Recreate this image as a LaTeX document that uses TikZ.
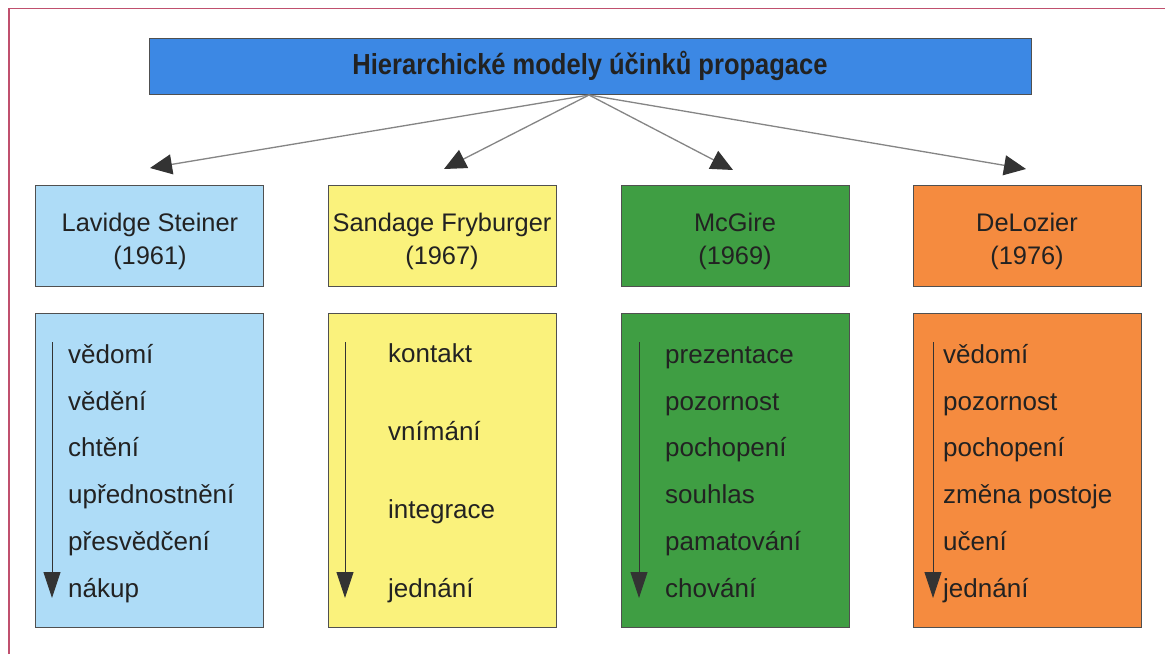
\documentclass[tikz,border=0pt]{standalone}
\usepackage{fontspec}
\setmainfont{Liberation Sans}
\newfontfamily\titlefont[FakeStretch=0.88]{Liberation Sans}
\usetikzlibrary{arrows.meta}
\definecolor{titleblue}{HTML}{3C88E4}
\definecolor{lightblue}{HTML}{AEDCF7}
\definecolor{boxyellow}{HTML}{FAF27C}
\definecolor{boxgreen}{HTML}{3F9E43}
\definecolor{boxorange}{HTML}{F58B3F}
\definecolor{framecol}{HTML}{C0506E}
\definecolor{bordercol}{HTML}{505050}
\definecolor{txtcol}{HTML}{222222}
\definecolor{fancol}{HTML}{858585}
\definecolor{tipcol}{HTML}{333333}
\begin{document}
\begin{tikzpicture}[x=1pt,y=-1pt,
  titlebox/.style={draw=bordercol, line width=0.8pt, fill=titleblue, minimum width=882pt, minimum height=56pt, inner sep=0pt},
  headbox/.style={draw=bordercol, line width=0.8pt, minimum width=228pt, minimum height=101pt, inner sep=0pt},
  listbox/.style={draw=bordercol, line width=0.8pt, minimum width=228pt, minimum height=314pt, inner sep=0pt},
  headtext/.style={text=txtcol, font=\fontsize{25.4}{33}\selectfont, align=center, inner sep=0pt},
  item/.style={text=txtcol, font=\fontsize{26}{30}\selectfont, inner sep=0pt, anchor=base west},
  fan/.style={draw=fancol, line width=1.3pt, -{Triangle[length=22pt,width=20pt,fill=tipcol,color=tipcol]}},
  flow/.style={draw=tipcol, line width=0.9pt, -{Triangle[length=26pt,width=17pt,fill=tipcol,color=tipcol]}}
]
\useasboundingbox (0,0) rectangle (1165,654);
\fill[white] (0,0) rectangle (1165,654);
\draw[framecol, line width=1.2pt] (9,654) -- (9,8.5) -- (1165,8.5);

% title
\node[titlebox] (title) at (590,66) {};
\node[text=txtcol, inner sep=0pt, font=\fontsize{29}{34}\selectfont\titlefont\bfseries] (titletext) at (590,66) {Hierarchické modely účinků propagace};
\coordinate (hub) at (589,95);

% head boxes
\node[headbox, fill=lightblue] (h1) at (149,235.5) {};
\node[headbox, fill=boxyellow] (h2) at (442,235.5) {};
\node[headbox, fill=boxgreen]  (h3) at (735,235.5) {};
\node[headbox, fill=boxorange] (h4) at (1027,235.5) {};
\node[headtext] (h1t) at (150,241) {Lavidge Steiner\\(1961)};
\node[headtext] (h2t) at (442,241) {Sandage Fryburger\\(1967)};
\node[headtext] (h3t) at (735,241) {McGire\\(1969)};
\node[headtext] (h4t) at (1027,241) {DeLozier\\(1976)};

% fan arrows
\coordinate (tip1) at (150,168);
\coordinate (tip2) at (444,169);
\coordinate (tip3) at (733,170);
\coordinate (tip4) at (1026,169);
\draw[fan] (hub) -- (tip1);
\draw[fan] (hub) -- (tip2);
\draw[fan] (hub) -- (tip3);
\draw[fan] (hub) -- (tip4);

% list boxes
\node[listbox, fill=lightblue] (l1) at (149,470) {};
\node[listbox, fill=boxyellow] (l2) at (442,470) {};
\node[listbox, fill=boxgreen]  (l3) at (735,470) {};
\node[listbox, fill=boxorange] (l4) at (1027,470) {};

% flow arrows
\coordinate (a1s) at (52,342);  \coordinate (a1e) at (52,598);
\coordinate (a2s) at (345,342); \coordinate (a2e) at (345,598);
\coordinate (a3s) at (639,342); \coordinate (a3e) at (639,598);
\coordinate (a4s) at (933,342); \coordinate (a4e) at (933,598);
\draw[flow] (a1s) -- (a1e);
\draw[flow] (a2s) -- (a2e);
\draw[flow] (a3s) -- (a3e);
\draw[flow] (a4s) -- (a4e);

% list items
\node[item] (i11) at (68,363) {vědomí};
\node[item] (i12) at (68,410) {vědění};
\node[item] (i13) at (68,456) {chtění};
\node[item] (i14) at (68,503) {upřednostnění};
\node[item] (i15) at (68,550) {přesvědčení};
\node[item] (i16) at (68,597) {nákup};

\node[item] (i21) at (388,362) {kontakt};
\node[item] (i22) at (388,440) {vnímání};
\node[item] (i23) at (388,518) {integrace};
\node[item] (i24) at (388,597) {jednání};

\node[item] (i31) at (665,363) {prezentace};
\node[item] (i32) at (665,410) {pozornost};
\node[item] (i33) at (665,456) {pochopení};
\node[item] (i34) at (665,503) {souhlas};
\node[item] (i35) at (665,550) {pamatování};
\node[item] (i36) at (665,597) {chování};

\node[item] (i41) at (943,363) {vědomí};
\node[item] (i42) at (943,410) {pozornost};
\node[item] (i43) at (943,456) {pochopení};
\node[item] (i44) at (943,503) {změna postoje};
\node[item] (i45) at (943,550) {učení};
\node[item] (i46) at (943,597) {jednání};
\end{tikzpicture}
\end{document}
